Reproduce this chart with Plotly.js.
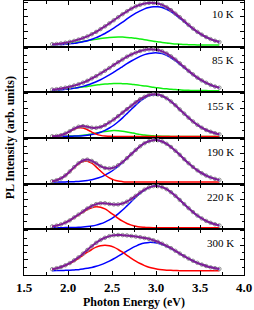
<!DOCTYPE html>
<html><head><meta charset="utf-8">
<script src="https://cdn.plot.ly/plotly-3.0.1.min.js"></script>
<style>html,body{margin:0;padding:0;background:#fff;} #chart{width:254px;height:310px;}</style>
</head><body><div id="chart"></div>
<script>
const energy = [1.82,1.87,1.92,1.97,2.02,2.07,2.12,2.17,2.22,2.27,2.32,2.37,2.42,2.47,2.52,2.57,2.62,2.67,2.72,2.77,2.82,2.87,2.92,2.97,3.02,3.07,3.12,3.17,3.22,3.27,3.32,3.37,3.42,3.47,3.52,3.57,3.62,3.67,3.72];
const temps = ['10 K','85 K','155 K','190 K','220 K','300 K'];

const fit_10K = [.12,.14,.17,.22,.28,.35,.44,.54,.66,.81,.97,1.16,1.35,1.56,1.77,1.98,2.19,2.39,2.57,2.73,2.84,2.93,2.97,2.97,2.93,2.83,2.67,2.47,2.23,1.98,1.72,1.45,1.20,.97,.78,.61,.47,.36,.27];
const blue_10K = [.08,.09,.10,.12,.15,.18,.23,.29,.36,.46,.57,.71,.86,1.04,1.23,1.43,1.64,1.86,2.07,2.26,2.42,2.56,2.65,2.70,2.70,2.65,2.53,2.36,2.15,1.92,1.67,1.42,1.18,.96,.77,.60,.47,.36,.27];
const green_10K = [.10,.11,.13,.16,.19,.23,.27,.31,.36,.41,.46,.51,.55,.58,.60,.61,.61,.59,.56,.53,.48,.43,.38,.33,.29,.24,.20,.17,.14,.12,.10,.09,.08,.07,.07,.07,.06,.06,.06];

const fit_85K = [.14,.17,.22,.27,.33,.42,.51,.62,.75,.91,1.07,1.25,1.44,1.63,1.84,2.03,2.22,2.41,2.56,2.69,2.80,2.88,2.92,2.91,2.87,2.78,2.63,2.43,2.21,1.95,1.69,1.43,1.19,.96,.77,.61,.46,.35,.27];
const blue_85K = [.09,.11,.13,.16,.19,.24,.29,.36,.45,.56,.68,.82,.98,1.15,1.34,1.53,1.73,1.93,2.11,2.28,2.43,2.55,2.63,2.67,2.67,2.62,2.50,2.33,2.13,1.89,1.65,1.40,1.17,.95,.76,.60,.46,.35,.27];
const green_85K = [.11,.12,.15,.17,.20,.24,.28,.32,.36,.41,.45,.49,.52,.54,.56,.56,.55,.54,.51,.47,.43,.39,.35,.30,.26,.22,.19,.16,.14,.12,.10,.09,.08,.07,.07,.07,.06,.06,.06];

const fit_155K = [.07,.09,.14,.26,.42,.60,.73,.77,.72,.66,.65,.71,.84,1.03,1.23,1.46,1.70,1.94,2.18,2.41,2.63,2.79,2.92,2.97,2.95,2.85,2.69,2.47,2.21,1.92,1.63,1.35,1.09,.86,.66,.50,.38,.28,.21];
const blue_155K = [.06,.06,.06,.07,.07,.08,.09,.11,.14,.19,.26,.35,.48,.64,.83,1.07,1.34,1.63,1.93,2.22,2.49,2.70,2.86,2.93,2.93,2.84,2.68,2.47,2.21,1.92,1.63,1.35,1.09,.86,.66,.50,.38,.28,.21];
const green_155K = [.06,.06,.06,.07,.08,.09,.11,.14,.18,.23,.29,.35,.40,.44,.46,.45,.42,.37,.31,.25,.20,.15,.12,.10,.08,.07,.07,.06,.06,.06,.06,.06,.06,.06,.06,.06,.06,.06,.06];
const red_155K = [.07,.09,.14,.24,.39,.55,.65,.64,.52,.36,.22,.13,.08,.07,.06,.06,.06,.06,.06,.06,.06,.06,.06,.06,.06,.06,.06,.06,.06,.06,.06,.06,.06,.06,.06,.06,.06,.06,.06];

const fit_190K = [.12,.19,.31,.52,.79,1.09,1.36,1.55,1.61,1.52,1.35,1.16,1.03,1.00,1.06,1.22,1.44,1.71,1.99,2.28,2.53,2.74,2.88,2.95,2.95,2.86,2.70,2.48,2.22,1.94,1.64,1.36,1.10,.87,.67,.51,.38,.28,.21];
const blue_190K = [.06,.06,.06,.07,.08,.09,.10,.13,.17,.22,.30,.40,.54,.71,.91,1.15,1.41,1.70,1.99,2.28,2.53,2.74,2.88,2.95,2.95,2.86,2.70,2.48,2.22,1.94,1.64,1.36,1.10,.87,.67,.51,.38,.28,.21];
const red_190K = [.12,.19,.31,.51,.77,1.06,1.32,1.48,1.50,1.36,1.11,.82,.55,.35,.21,.13,.09,.07,.06,.06,.06,.06,.06,.06,.06,.06,.06,.06,.06,.06,.06,.06,.06,.06,.06,.06,.06,.06,.06];

const fit_220K = [.15,.21,.29,.42,.57,.77,.97,1.18,1.39,1.56,1.69,1.75,1.75,1.70,1.67,1.67,1.73,1.86,2.05,2.26,2.49,2.69,2.84,2.93,2.93,2.86,2.72,2.51,2.26,1.98,1.69,1.41,1.14,.90,.70,.53,.40,.30,.22];
const blue_220K = [.06,.06,.06,.07,.07,.08,.09,.11,.14,.18,.24,.33,.45,.60,.79,1.02,1.28,1.57,1.87,2.16,2.44,2.66,2.83,2.93,2.93,2.86,2.72,2.51,2.26,1.98,1.69,1.41,1.14,.90,.70,.53,.40,.30,.22];
const red_220K = [.15,.21,.29,.41,.56,.75,.94,1.13,1.31,1.44,1.51,1.48,1.36,1.16,.94,.71,.51,.35,.24,.16,.11,.09,.07,.06,.06,.06,.06,.06,.06,.06,.06,.06,.06,.06,.06,.06,.06,.06,.06];

const fit_300K = [.35,.42,.50,.62,.77,.96,1.17,1.42,1.68,1.93,2.17,2.37,2.52,2.63,2.69,2.71,2.70,2.68,2.64,2.60,2.56,2.50,2.44,2.35,2.24,2.11,1.96,1.80,1.62,1.43,1.25,1.08,.93,.79,.67,.57,.48,.42,.37];
const red_300K = [.35,.41,.49,.60,.74,.91,1.10,1.31,1.52,1.71,1.87,1.97,2.00,1.97,1.87,1.71,1.52,1.31,1.10,.91,.74,.60,.49,.41,.35,.31,.28,.27,.26,.25,.25,.25,.25,.25,.25,.25,.25,.25,.25];
const blue_300K = [.25,.26,.26,.27,.28,.30,.32,.36,.41,.47,.55,.65,.77,.91,1.07,1.25,1.43,1.62,1.79,1.94,2.07,2.15,2.20,2.19,2.14,2.05,1.93,1.78,1.61,1.43,1.25,1.08,.93,.79,.67,.57,.48,.42,.37];

const xTickVals = [1.5,2.0,2.5,3.0,3.5,4.0];
const xTickText = ['1.5','2.0','2.5','3.0','3.5','4.0'];

const COL = {green:'#10f010', blue:'#0000ff', red:'#ff0000', fit:'#7d1f95', data:'#8c8c8c'};
const panels = [
  {label: temps[0], fit: fit_10K, comps: [[green_10K,'green'],[blue_10K,'blue']]},
  {label: temps[1], fit: fit_85K, comps: [[green_85K,'green'],[blue_85K,'blue']]},
  {label: temps[2], fit: fit_155K, comps: [[green_155K,'green'],[blue_155K,'blue'],[red_155K,'red']]},
  {label: temps[3], fit: fit_190K, comps: [[blue_190K,'blue'],[red_190K,'red']]},
  {label: temps[4], fit: fit_220K, comps: [[blue_220K,'blue'],[red_220K,'red']]},
  {label: temps[5], fit: fit_300K, comps: [[blue_300K,'blue'],[red_300K,'red']]}
];

const SERIF = 'Liberation Serif, Times New Roman, serif';
const traces = [];
const layout = {
  width: 254, height: 310,
  margin: {l: 24, r: 10, t: 1, b: 35},
  paper_bgcolor: '#fff', plot_bgcolor: '#fff',
  showlegend: false,
  font: {family: SERIF, color: '#000'},
  annotations: []
};
const N = panels.length;
panels.forEach((p, i) => {
  const n = i + 1;
  const xa = 'x' + (n === 1 ? '' : n), ya = 'y' + (n === 1 ? '' : n);
  p.comps.forEach(([vals, c]) => {
    traces.push({x: energy, y: vals, xaxis: xa, yaxis: ya, type: 'scatter', mode: 'lines',
      line: {color: COL[c], width: 1.5, shape: 'spline'}, hoverinfo: 'skip'});
  });
  traces.push({x: energy, y: p.fit, xaxis: xa, yaxis: ya, type: 'scatter', mode: 'markers',
    marker: {symbol: 'circle-open', size: 3.5, color: COL.data, line: {width: 1, color: COL.data}}, hoverinfo: 'skip'});
  traces.push({x: energy, y: p.fit, xaxis: xa, yaxis: ya, type: 'scatter', mode: 'lines',
    line: {color: COL.fit, width: 2, shape: 'spline'}, hoverinfo: 'skip'});
  const top = 1 - i / N, bot = 1 - (i + 1) / N;
  const isBottom = (i === N - 1);
  layout['xaxis' + (n === 1 ? '' : n)] = {
    anchor: ya, domain: [0, 1], range: [1.5, 4.0],
    showline: true, linecolor: '#000', linewidth: 1, mirror: 'ticks',
    ticks: 'inside', ticklen: 4, tickcolor: '#000', tickwidth: 1,
    tickvals: xTickVals, ticktext: xTickText, showgrid: false, zeroline: false,
    showticklabels: isBottom,
    tickfont: {family: SERIF, size: 13, weight: 'bold', color: '#000'},
    minor: {dtick: 0.25, tick0: 1.5, ticks: 'inside', ticklen: 3, tickcolor: '#000', showgrid: false},
    title: isBottom ? {text: 'Photon Energy (eV)', font: {family: SERIF, size: 12, weight: 'bold', color: '#000'}, standoff: 2} : {text: ''}
  };
  layout['yaxis' + (n === 1 ? '' : n)] = {
    anchor: xa, domain: [bot, top], range: [-0.05, 3.1],
    showline: true, linecolor: '#000', linewidth: 1, mirror: 'ticks',
    ticks: 'inside', ticklen: 4, tickcolor: '#000', dtick: 1, tick0: 0,
    minor: {dtick: 0.5, ticks: 'inside', ticklen: 2.5, tickcolor: '#000', showgrid: false},
    showticklabels: false, showgrid: false, zeroline: false
  };
  layout.annotations.push({xref: 'paper', yref: 'paper', x: 0.965, y: top - 13.5 / 274,
    xanchor: 'right', yanchor: 'middle', showarrow: false, text: p.label,
    font: {family: SERIF, size: 11, color: '#000'}});
});
layout.annotations.push({xref: 'paper', yref: 'paper', x: -0.062, y: 0.5, textangle: -90,
  xanchor: 'center', yanchor: 'middle', showarrow: false, text: 'PL Intensity (arb. units)',
  font: {family: SERIF, size: 12, weight: 'bold', color: '#000'}});

Plotly.newPlot('chart', traces, layout, {staticPlot: true, displayModeBar: false});
</script></body></html>
